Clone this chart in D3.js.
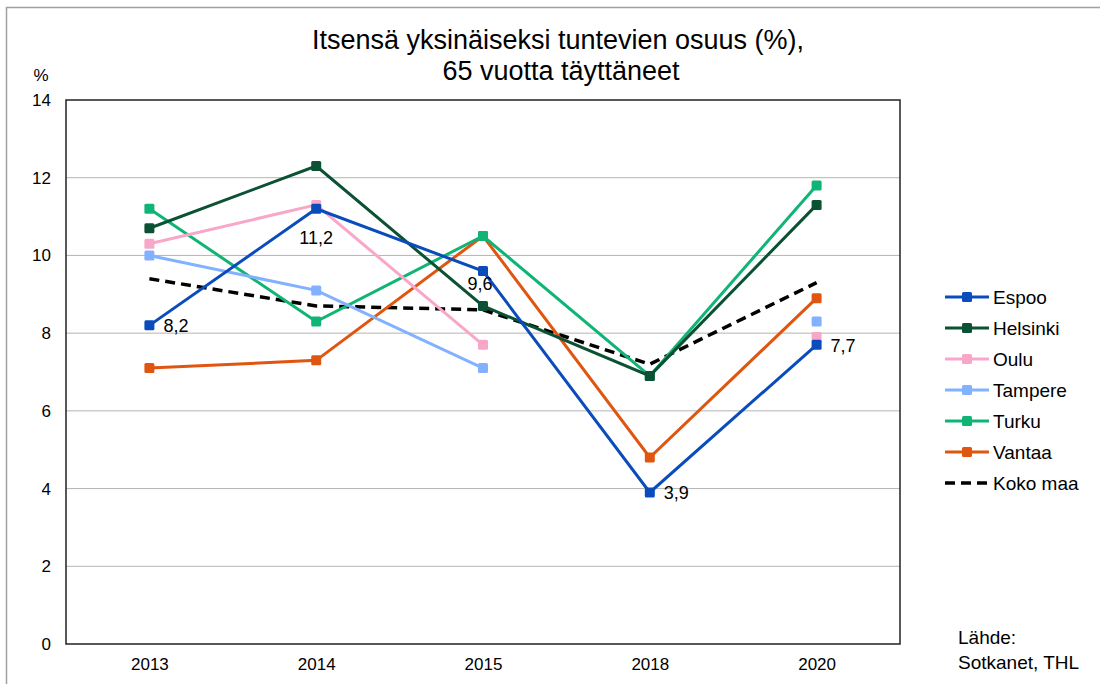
<!DOCTYPE html>
<html>
<head>
<meta charset="utf-8">
<script src="https://cdn.jsdelivr.net/npm/d3@7"></script>
<style>
  body { margin: 0; background: #fff; }
  text { font-family: "Liberation Sans", Arial, sans-serif; fill: #000; }
</style>
</head>
<body>
<div id="chart"></div>
<script>
// Data
const years = ["2013", "2014", "2015", "2018", "2020"];
const espoo    = [8.2, 11.2, 9.6, 3.9, 7.7];
const helsinki = [10.7, 12.3, 8.7, 6.9, 11.3];
const oulu     = [10.3, 11.3, 7.7, null, 7.9];
const tampere  = [10.0, 9.1, 7.1, null, 8.3];
const turku    = [11.2, 8.3, 10.5, 6.9, 11.8];
const vantaa   = [7.1, 7.3, 10.5, 4.8, 8.9];
const kokoMaa  = [9.4, 8.7, 8.6, 7.2, 9.3];
const yTicks = [0, 2, 4, 6, 8, 10, 12, 14];

const series = [
  { name: "Espoo", values: espoo, color: "#0a4cbc" },
  { name: "Helsinki", values: helsinki, color: "#0b5133" },
  { name: "Oulu", values: oulu, color: "#f8a7c9" },
  { name: "Tampere", values: tampere, color: "#82b1ff" },
  { name: "Turku", values: turku, color: "#10b575" },
  { name: "Vantaa", values: vantaa, color: "#e0550f" }
];
// Espoo labels shown on the chart: [index, position]
const espooLabels = [[0, "right"], [1, "below"], [2, "under"], [3, "right"], [4, "right"]];

const W = 1100, H = 684;
const margin = { top: 100, right: 200, bottom: 40, left: 66 };
const width = 900 - margin.left;
const height = 644 - margin.top;

const svg = d3.select("#chart").append("svg")
    .attr("width", W)
    .attr("height", H);

// outer frame
svg.append("rect")
    .attr("x", 6.5).attr("y", 7.5)
    .attr("width", W + 10).attr("height", H + 10)
    .attr("fill", "none")
    .attr("stroke", "#a0a0a0")
    .attr("stroke-width", 1.5);

// Title
svg.append("text")
    .attr("x", 558).attr("y", 49)
    .attr("text-anchor", "middle")
    .style("font-size", "27px")
    .text("Itsensä yksinäiseksi tuntevien osuus (%),");
svg.append("text")
    .attr("x", 561).attr("y", 80)
    .attr("text-anchor", "middle")
    .style("font-size", "27px")
    .text("65 vuotta täyttäneet");

svg.append("text")
    .attr("x", 41).attr("y", 81)
    .attr("text-anchor", "middle")
    .style("font-size", "17px")
    .text("%");

const g = svg.append("g")
    .attr("transform", `translate(${margin.left},${margin.top})`);

const x = d3.scalePoint().domain(years).range([0, width]).padding(0.5);
const y = d3.scaleLinear().domain([0, 14]).range([height, 0]);

// Gridlines
g.append("g")
  .selectAll("line")
  .data(yTicks.filter(d => d > 0 && d < 14))
  .join("line")
    .attr("x1", 0).attr("x2", width)
    .attr("y1", d => y(d)).attr("y2", d => y(d))
    .attr("stroke", "#b4b4b4")
    .attr("stroke-width", 1);

// Y axis labels
const yAxis = g.append("g")
    .call(d3.axisLeft(y).tickValues(yTicks).tickSize(0).tickPadding(15));
yAxis.select(".domain").remove();
yAxis.selectAll("text").style("font-size", "17px").attr("font-family", null);

// X axis labels
const xAxis = g.append("g")
    .attr("transform", `translate(0,${height})`)
    .call(d3.axisBottom(x).tickSize(0).tickPadding(14));
xAxis.select(".domain").remove();
xAxis.selectAll("text").style("font-size", "17px").attr("font-family", null);

// Plot frame
g.append("rect")
    .attr("x", 0).attr("y", 0)
    .attr("width", width).attr("height", height)
    .attr("fill", "none")
    .attr("stroke", "#222")
    .attr("stroke-width", 1.5);

const line = d3.line()
    .defined(d => d.v != null)
    .x(d => x(d.year))
    .y(d => y(d.v));

const toPts = vals => vals.map((v, i) => ({ year: years[i], v: v }));

// Koko maa dashed
g.append("path")
    .datum(toPts(kokoMaa))
    .attr("fill", "none")
    .attr("stroke", "#000")
    .attr("stroke-width", 3.5)
    .attr("stroke-dasharray", "10,6")
    .attr("d", line);

// City lines, drawn in reverse so Espoo ends up on top
series.slice().reverse().forEach(s => {
  const pts = toPts(s.values);
  g.append("path")
      .datum(pts)
      .attr("fill", "none")
      .attr("stroke", s.color)
      .attr("stroke-width", 3)
      .attr("d", line);
  g.selectAll(null)
    .data(pts.filter(d => d.v != null))
    .join("rect")
      .attr("x", d => x(d.year) - 5)
      .attr("y", d => y(d.v) - 5)
      .attr("width", 10).attr("height", 10)
      .attr("rx", 1.5)
      .attr("fill", s.color);
});

// Espoo data labels
espooLabels.forEach(([i, pos]) => {
  const t = g.append("text")
      .style("font-size", "18px")
      .text(d3.format(".1f")(espoo[i]).replace(".", ","));
  if (pos === "right") {
    t.attr("x", x(years[i]) + 14).attr("y", y(espoo[i]) + 7);
  } else if (pos === "below") {
    t.attr("x", x(years[i])).attr("y", y(espoo[i]) + 35).attr("text-anchor", "middle");
  } else {
    // 9,6 sits just under its marker
    t.attr("x", x(years[i]) - 3).attr("y", y(espoo[i]) + 19).attr("text-anchor", "middle");
  }
});

// Legend
const legendItems = series.map(s => ({ name: s.name, color: s.color, dash: false }))
    .concat([{ name: "Koko maa", color: "#000", dash: true }]);
const legend = svg.append("g").attr("transform", "translate(945,297)");
legendItems.forEach((d, i) => {
  const row = legend.append("g").attr("transform", `translate(0,${i * 31})`);
  row.append("line")
      .attr("x1", 0).attr("x2", 44)
      .attr("stroke", d.color)
      .attr("stroke-width", d.dash ? 3.5 : 3)
      .attr("stroke-dasharray", d.dash ? "10,6" : null);
  if (!d.dash) {
    row.append("rect")
        .attr("x", 17).attr("y", -5)
        .attr("width", 10).attr("height", 10)
        .attr("rx", 1.5)
        .attr("fill", d.color);
  }
  row.append("text")
      .attr("x", 48).attr("y", 7)
      .style("font-size", "19px")
      .text(d.name);
});

// Source
svg.append("text").attr("x", 958).attr("y", 644).style("font-size", "19px").text("Lähde:");
svg.append("text").attr("x", 958).attr("y", 669).style("font-size", "19px").text("Sotkanet, THL");
</script>
</body>
</html>
